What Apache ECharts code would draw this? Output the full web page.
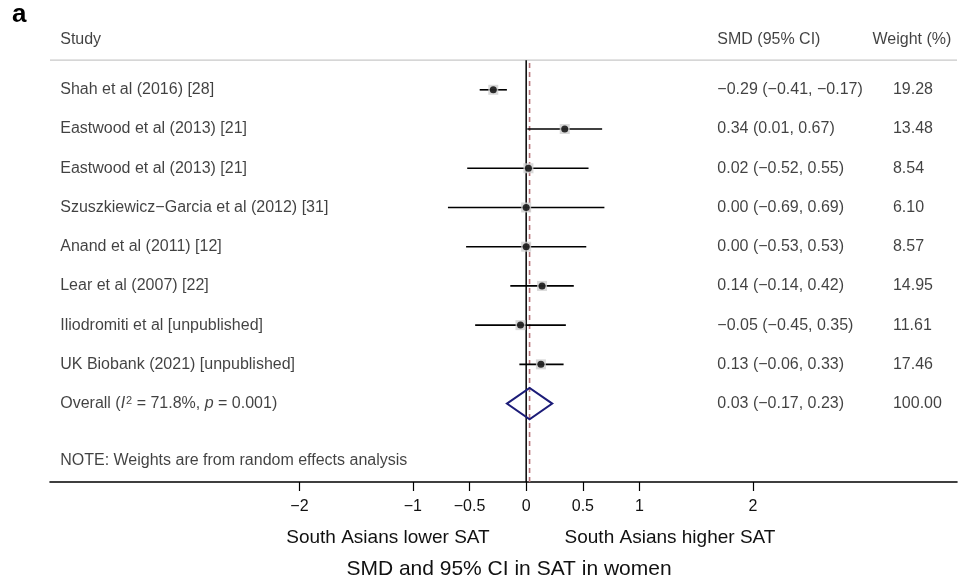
<!DOCTYPE html>
<html><head><meta charset="utf-8">
<script src="https://cdn.jsdelivr.net/npm/echarts@6/dist/echarts.min.js"></script>
<style>html,body{margin:0;padding:0;background:#fff}#c{width:972px;height:582px}</style>
</head><body><div id="c"></div>
<script>
// ---- data ----
const studies = [
  'Shah et al (2016) [28]',
  'Eastwood et al (2013) [21]',
  'Eastwood et al (2013) [21]',
  'Szuszkiewicz\u2212Garcia et al (2012) [31]',
  'Anand et al (2011) [12]',
  'Lear et al (2007) [22]',
  'Iliodromiti et al [unpublished]',
  'UK Biobank (2021) [unpublished]'
];
const smd    = [-0.29, 0.34,  0.02,  0.00,  0.00,  0.14, -0.05,  0.13];
const lower  = [-0.41, 0.01, -0.52, -0.69, -0.53, -0.14, -0.45, -0.06];
const upper  = [-0.17, 0.67,  0.55,  0.69,  0.53,  0.42,  0.35,  0.33];
const weights = [19.28, 13.48, 8.54, 6.10, 8.57, 14.95, 11.61, 17.46];
const overallSmd = 0.03, overallLower = -0.17, overallUpper = 0.23, overallWeight = 100.00;
const overallI2 = '71.8%', overallP = '0.001';
const tickValues = [-2, -1, -0.5, 0, 0.5, 1, 2];
const headers = ['Study', 'SMD (95% CI)', 'Weight (%)'];
const noteText = 'NOTE: Weights are from random effects analysis';
const leftLabel = 'South Asians lower SAT';
const rightLabel = 'South Asians higher SAT';
const xTitle = 'SMD and 95% CI in SAT in women';
const panelLetter = 'a';

// ---- layout ----
const FONT = '"Liberation Sans", Arial, Helvetica, sans-serif';
const X_MIN = -4.2, X_MAX = 3.8;
const Y_MAX = 12.29;
const TOP_ROW = 10.755, HEADER_ROW = 11.27, OVERALL_ROW = 2, NOTE_ROW = 0.55;
const COL_NAME = -4.11, COL_SMD = 1.686, COL_W = 3.235, COL_WH = 3.055;
const rowOf = i => 10 - i;
const fmt = v => (v < 0 ? '\u2212' : '') + Math.abs(v).toFixed(2);
const ciText = (e, l, u) => fmt(e) + ' (' + fmt(l) + ', ' + fmt(u) + ')';

const chart = echarts.init(document.getElementById('c'), null, {renderer: 'canvas'});

const textLabel = {show: true, position: 'right', distance: 0, color: '#111', fontSize: 16, fontFamily: FONT, formatter: p => p.data.t};
function textSeries(points) {
  return {type: 'scatter', symbolSize: 0, silent: true, data: points, label: textLabel, z: 5};
}

const nameData = studies.map((s, i) => ({value: [COL_NAME, rowOf(i)], t: s}));
nameData.push({value: [COL_NAME, OVERALL_ROW], t: '',
  label: {formatter: '{n|Overall (}{i|I}{s|2}{n| = ' + overallI2 + ', }{i|p}{n| = ' + overallP + ')}',
    rich: {n: {fontSize: 16, fontFamily: FONT, color: '#111'},
           i: {fontSize: 16, fontFamily: FONT, color: '#111', fontStyle: 'italic'},
           s: {fontSize: 11, fontFamily: FONT, color: '#111', verticalAlign: 'top', padding: [0, 0, 0, 1]}}}});
nameData.push({value: [COL_NAME, NOTE_ROW], t: noteText});
nameData.push({value: [COL_NAME, HEADER_ROW], t: headers[0]});

const smdData = studies.map((s, i) => ({value: [COL_SMD, rowOf(i)], t: ciText(smd[i], lower[i], upper[i])}));
smdData.push({value: [COL_SMD, OVERALL_ROW], t: ciText(overallSmd, overallLower, overallUpper)});
smdData.push({value: [COL_SMD, HEADER_ROW], t: headers[1]});

const wData = weights.map((w, i) => ({value: [COL_W, rowOf(i)], t: w.toFixed(2)}));
wData.push({value: [COL_W, OVERALL_ROW], t: overallWeight.toFixed(2)});
wData.push({value: [COL_WH, HEADER_ROW], t: headers[2]});

const option = {
  animation: false,
  backgroundColor: '#fff',
  grid: {left: 50, right: 15, top: 0, bottom: 100, containLabel: false},
  xAxis: {
    type: 'value', min: X_MIN, max: X_MAX,
    splitLine: {show: false},
    axisLine: {show: true, lineStyle: {color: '#000', width: 1.6}},
    axisTick: {show: true, customValues: tickValues, length: 9, lineStyle: {color: '#000', width: 1.2}},
    axisLabel: {customValues: tickValues, margin: 17, fontSize: 16, color: '#111', fontFamily: FONT,
      formatter: v => (v < 0 ? '\u2212' + Math.abs(v) : String(v))}
  },
  yAxis: {type: 'value', min: 0, max: Y_MAX, show: false},
  graphic: [
    {type: 'text', left: 12, top: 2, style: {text: panelLetter, font: 'bold 26px ' + FONT, fill: '#000'}},
    {type: 'text', x: 388, y: 538, style: {text: leftLabel, font: '19px ' + FONT, fill: '#111', align: 'center', verticalAlign: 'middle'}},
    {type: 'text', x: 670, y: 538, style: {text: rightLabel, font: '19px ' + FONT, fill: '#111', align: 'center', verticalAlign: 'middle'}},
    {type: 'text', x: 509, y: 569, style: {text: xTitle, font: '21px ' + FONT, fill: '#111', align: 'center', verticalAlign: 'middle'}}
  ],
  series: [
    {type: 'line', symbol: 'none', silent: true, data: [[X_MIN, TOP_ROW], [X_MAX, TOP_ROW]],
     lineStyle: {color: '#c8c8c8', width: 1.2}, z: 1},
    {type: 'line', symbol: 'none', silent: true, data: [[0, 0], [0, TOP_ROW]],
     lineStyle: {color: '#000', width: 1.5}, z: 2},
    {type: 'line', symbol: 'none', silent: true, data: [[overallSmd, 0], [overallSmd, TOP_ROW]],
     lineStyle: {color: '#b8767c', width: 1.6, type: [5, 4]}, z: 3},
    {type: 'custom', silent: true, z: 4,
     data: studies.map((s, i) => [lower[i], upper[i], rowOf(i)]),
     renderItem: (params, api) => {
       const a = api.coord([api.value(0), api.value(2)]);
       const b = api.coord([api.value(1), api.value(2)]);
       return {type: 'line', shape: {x1: a[0], y1: a[1], x2: b[0], y2: b[1]}, style: {stroke: '#000', lineWidth: 1.6}};
     }},
    {type: 'scatter', symbol: 'rect', symbolSize: 10, silent: true, z: 5,
     itemStyle: {color: '#cfcfcf'}, data: studies.map((s, i) => [smd[i], rowOf(i)])},
    {type: 'scatter', symbol: 'circle', symbolSize: 7, silent: true, z: 6,
     itemStyle: {color: '#000'}, data: studies.map((s, i) => [smd[i], rowOf(i)])},
    {type: 'custom', silent: true, z: 6,
     data: [[overallSmd, overallLower, overallUpper, OVERALL_ROW]],
     renderItem: (params, api) => {
       const y = api.value(3);
       const c = api.coord([api.value(0), y]);
       const l = api.coord([api.value(1), y]);
       const r = api.coord([api.value(2), y]);
       const t = api.coord([api.value(0), y + 0.4]);
       const b = api.coord([api.value(0), y - 0.4]);
       return {type: 'polygon', shape: {points: [[l[0], c[1]], [t[0], t[1]], [r[0], c[1]], [b[0], b[1]]]},
               style: {fill: 'none', stroke: '#1c1c78', lineWidth: 2}};
     }},
    textSeries(nameData),
    textSeries(smdData),
    textSeries(wData)
  ]
};
chart.setOption(option);
</script>
</body></html>
